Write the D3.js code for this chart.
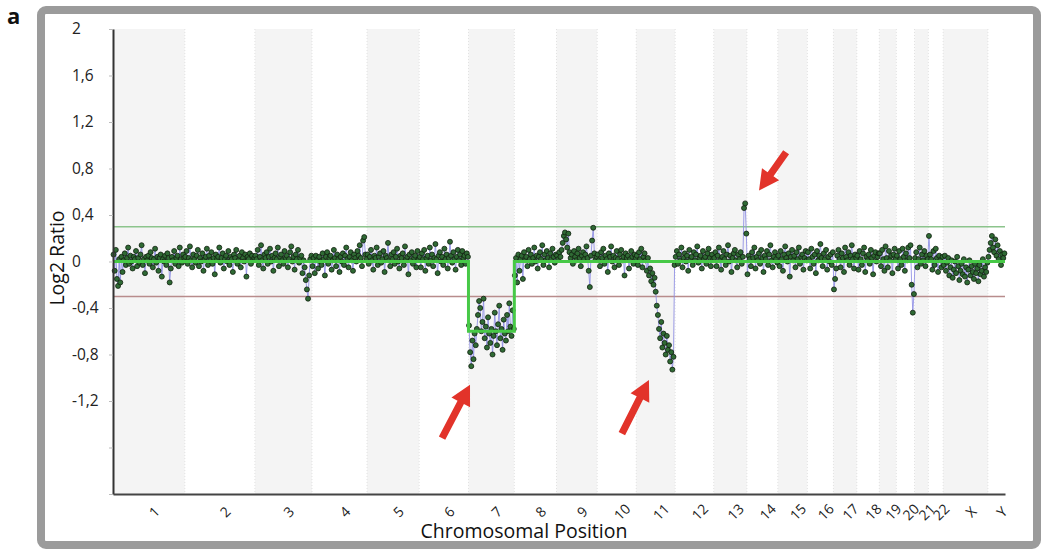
<!DOCTYPE html>
<html>
<head>
<meta charset="utf-8">
<script src="https://cdn.jsdelivr.net/npm/d3@7"></script>
<style>
  html, body { margin: 0; padding: 0; background: #fff; }
  svg { display: block; font-family: "Open Sans", "Liberation Sans", sans-serif; }
</style>
</head>
<body>
<svg id="chart" width="1041" height="551"></svg>
<script>
// Chromosomes and their lengths (Mb)
const chromosomes = ["1","2","3","4","5","6","7","8","9","10","11","12","13","14","15","16","17","18","19","20","21","22","X","Y"];
const chromLengthsMb = [249.25,243.20,198.02,191.15,180.92,171.12,159.14,146.36,141.21,135.53,135.01,133.85,115.17,107.35,102.53,90.35,81.20,78.08,59.13,63.03,48.13,51.30,155.27,59.37];

// Probe log2 ratios, in genomic order along each chromosome
const probesChr1 = [0.06,-0.08,0.10,-0.15,-0.21,0.02,-0.18,0.04,-0.09,0.01,0.07,-0.03,0.03,0.12,-0.02,0.05,0.00,-0.06,0.04,0.02,0.09,-0.04,0.03,-0.01,0.06,0.14,-0.03,0.02,-0.10,0.04,0.01,0.05,-0.02,0.08,0.03,-0.05,0.02,0.11,-0.01,0.04,-0.08,0.03,0.06,-0.13,0.02,0.00,0.05,-0.03,0.07,0.03,-0.18,-0.06,0.04,0.01,0.09,-0.02,0.03,0.05,-0.04,0.12,0.02,-0.01,0.06,0.03];
const probesChr2 = [0.04,0.09,-0.02,0.03,0.13,0.01,-0.05,0.06,0.02,-0.01,0.05,0.10,-0.04,0.03,0.00,0.07,-0.08,0.02,0.04,0.11,-0.03,0.05,0.01,0.08,-0.02,0.03,-0.11,0.06,0.02,0.04,0.12,-0.01,0.03,0.07,-0.06,0.02,0.05,0.00,0.09,-0.03,0.04,0.02,-0.09,0.06,0.03,0.10,-0.02,0.01,0.05,-0.05,0.08,0.03,0.00,0.06,-0.13,0.04,0.02,0.07,-0.02,0.05,0.01,0.03];
const probesChr3 = [0.05,0.02,0.10,-0.03,0.04,0.14,0.01,-0.06,0.06,0.03,0.08,-0.02,0.04,0.11,0.00,0.05,-0.08,0.03,0.07,0.02,0.12,-0.04,0.04,0.06,0.01,-0.02,0.09,0.03,0.05,-0.05,0.02,0.08,0.13,0.00,0.04,-0.07,0.06,0.02,0.10,-0.01,0.03,0.05,-0.10,0.01,-0.05,-0.16,-0.24,-0.32,-0.12,0.02,0.05];
const probesChr4 = [-0.04,0.03,-0.10,0.05,0.01,-0.06,0.04,0.00,-0.03,0.07,0.02,-0.12,0.04,0.08,-0.02,0.03,0.05,-0.07,0.01,0.10,0.03,-0.04,0.06,0.02,-0.09,0.04,0.00,0.07,-0.03,0.05,0.12,0.02,-0.05,0.04,0.08,0.01,-0.08,0.06,0.03,0.00,0.09,0.05,0.14,0.03,-0.04,0.18,0.21,0.06,0.02];
const probesChr5 = [0.06,-0.02,0.04,0.10,0.01,-0.07,0.05,0.03,0.12,-0.03,0.04,0.07,-0.01,0.02,0.09,-0.09,0.05,0.03,0.16,0.01,-0.04,0.06,0.02,0.08,-0.02,0.04,0.11,0.00,-0.06,0.05,0.03,0.07,-0.03,0.13,0.02,0.04,-0.11,0.06,0.01,0.08,-0.02,0.03,0.05,-0.05,0.09,0.02];
const probesChr6 = [0.04,-0.05,0.07,0.02,0.10,-0.08,0.03,0.05,-0.02,0.12,0.01,0.06,-0.04,0.03,0.15,0.02,-0.10,0.05,0.08,0.00,0.04,-0.03,0.11,0.02,0.06,-0.06,0.03,0.17,0.05,-0.01,0.08,0.02,-0.07,0.04,0.10,0.01,0.06,-0.03,0.09,0.03,0.05,-0.02,0.07,0.04];
const probesChr7 = [-0.55,-0.78,-0.90,-0.68,-0.84,-0.62,-0.72,-0.58,-0.46,-0.34,-0.40,-0.60,-0.52,-0.32,-0.66,-0.56,-0.74,-0.48,-0.62,-0.70,-0.58,-0.80,-0.64,-0.44,-0.60,-0.72,-0.54,-0.38,-0.66,-0.58,-0.76,-0.50,-0.62,-0.68,-0.46,-0.60,-0.36,-0.56,-0.64,-0.42,-0.58];
const probesChr8 = [-0.12,0.03,-0.18,0.06,-0.08,0.02,0.05,-0.15,0.08,0.01,0.04,-0.04,0.10,0.02,0.06,-0.02,0.03,0.12,0.00,0.05,-0.06,0.04,0.08,0.02,0.14,-0.03,0.06,0.01,0.09,0.03,-0.05,0.07,0.02,0.11,0.04,-0.01,0.06];
const probesChr9 = [0.05,0.02,0.08,0.04,0.10,0.16,0.22,0.25,0.19,0.12,0.24,0.08,0.03,0.06,-0.02,0.09,0.04,0.01,0.07,0.11,0.03,-0.04,0.05,0.08,0.02,0.06,0.13,0.03,-0.08,-0.22,0.05,0.18,0.29,0.07,0.02,0.04];
const probesChr10 = [0.06,0.01,-0.04,0.08,0.03,0.11,-0.02,0.05,0.02,-0.09,0.07,0.04,0.13,0.00,0.05,-0.05,0.03,0.09,0.02,-0.03,0.06,0.10,0.01,0.04,-0.12,0.07,0.03,0.05,-0.06,0.02,0.09,0.04,-0.02,0.06,0.03];
const probesChr11 = [0.05,-0.03,0.08,0.02,0.11,-0.05,0.04,0.07,0.01,-0.08,0.03,-0.12,-0.06,-0.17,-0.10,-0.20,-0.14,-0.26,-0.38,-0.46,-0.58,-0.66,-0.52,-0.74,-0.62,-0.70,-0.80,-0.64,-0.76,-0.72,-0.86,-0.78,-0.93,-0.82,-0.03];
const probesChr12 = [0.04,0.09,-0.02,0.06,0.01,0.12,-0.05,0.03,0.07,0.00,0.05,-0.08,0.10,0.02,0.04,-0.03,0.08,0.01,0.06,0.13,-0.01,0.03,0.05,-0.06,0.09,0.02,0.04,-0.02,0.07,0.11,0.03,-0.04,0.06,0.02];
const probesChr13 = [0.03,0.08,-0.04,0.05,0.12,0.01,-0.07,0.04,0.09,0.02,-0.03,0.06,0.14,0.00,0.05,-0.09,0.03,0.07,0.10,0.01,-0.05,0.06,0.02,0.08,-0.02,0.04,0.46,0.50,0.24];
const probesChr14 = [-0.11,0.05,0.02,-0.04,0.08,0.03,0.12,-0.06,0.04,0.01,0.07,-0.02,0.10,0.03,-0.09,0.05,0.02,0.09,-0.03,0.06,0.14,0.01,-0.05,0.04,0.08,0.02,-0.01];
const probesChr15 = [0.05,-0.04,0.09,0.02,-0.08,0.06,0.13,0.03,0.00,0.07,-0.13,0.04,0.10,0.01,0.05,-0.05,0.08,0.02,0.12,-0.02,0.04,0.06,-0.07,0.03,0.09,0.01];
const probesChr16 = [0.08,0.02,-0.06,0.11,0.04,-0.02,0.06,-0.10,0.09,0.01,0.05,0.15,0.03,-0.04,0.07,0.02,0.10,-0.07,0.04,0.00,0.06,-0.03,0.08];
const probesChr17 = [-0.24,-0.15,-0.06,0.05,0.10,0.02,-0.05,0.07,0.03,-0.09,0.12,0.04,0.01,0.08,-0.03,0.05,0.14,0.02,-0.06,0.06,0.03];
const probesChr18 = [0.05,-0.07,0.09,0.02,-0.03,0.07,0.12,-0.09,0.04,0.01,0.06,-0.02,0.10,0.03,-0.11,0.05,0.08,0.00,0.04,0.07];
const probesChr19 = [0.07,-0.04,0.10,0.02,-0.08,0.13,0.03,-0.05,0.09,0.01,0.05,-0.10,0.06,0.11,0.02];
const probesChr20 = [0.05,-0.06,0.09,0.02,-0.03,0.11,0.04,-0.08,0.07,0.01,0.12,0.03,0.14,-0.20,-0.44,-0.28];
const probesChr21 = [0.03,0.08,-0.05,0.02,0.12,-0.02,0.06,0.01,0.09,-0.04,0.05,0.02];
const probesChr22 = [0.22,0.06,0.02,-0.07,0.09,-0.03,0.11,0.03,-0.09,0.05,0.01,-0.05,0.04];
const probesChrX = [-0.03,0.05,-0.08,-0.01,0.03,-0.12,-0.05,0.01,-0.14,-0.07,0.00,-0.10,0.04,-0.04,-0.16,-0.08,-0.02,-0.11,0.02,-0.13,-0.05,-0.18,-0.07,0.01,-0.12,-0.04,-0.09,-0.15,-0.02,-0.10,-0.06,-0.17,-0.03,-0.11,-0.08,0.02,-0.13,-0.05,-0.09,-0.01];
const probesChrY = [0.04,0.10,0.16,0.22,0.12,0.08,0.19,0.05,0.14,0.02,0.09,-0.03,0.06,0.03,0.07];

const probeSeries = [probesChr1,probesChr2,probesChr3,probesChr4,probesChr5,probesChr6,probesChr7,probesChr8,
  probesChr9,probesChr10,probesChr11,probesChr12,probesChr13,probesChr14,probesChr15,probesChr16,probesChr17,
  probesChr18,probesChr19,probesChr20,probesChr21,probesChr22,probesChrX,probesChrY];

// Segmented copy-number call per chromosome (log2)
const segmentLog2 = [0,0,0,0,0,0,-0.6,0,0,0,0,0,0,0,0,0,0,0,0,0,0,0,0,0];

// Gain / loss thresholds
const gainThreshold = 0.3;
const lossThreshold = -0.3;

// Y axis ticks
const yTicks = [2,1.6,1.2,0.8,0.4,0,-0.4,-0.8,-1.2,-1.6,-2];
const yTickLabels = ["2","1,6","1,2","0,8","0,4","0","-0,4","-0,8","-1,2","",""];

// Arrow annotations: [genome position (Mb), log2] for tail and tip
const arrowTails = [[1142,-1.52],[1766,-1.48],[2336,0.94]];
const arrowTips  = [[1239,-1.06],[1860,-1.02],[2242,0.61]];

// ---------------------------------------------------------------
const svg = d3.select("#chart");
const plot = {left: 113, right: 1005, top: 29, bottom: 494};

const starts = [];
chromLengthsMb.reduce((acc, len) => { starts.push(acc); return acc + len; }, 0);
const genomeLength = d3.sum(chromLengthsMb);

const x = d3.scaleLinear().domain([0, genomeLength]).range([plot.left, plot.right]);
const y = d3.scaleLinear().domain([-2, 2]).range([plot.bottom, plot.top]);

// Outer frame
svg.append("rect")
  .attr("x", 41).attr("y", 10).attr("width", 996).attr("height", 535)
  .attr("rx", 5)
  .attr("fill", "none").attr("stroke", "#9b9b9b").attr("stroke-width", 8);

// Panel letter
svg.append("text")
  .attr("x", 7).attr("y", 24)
  .attr("font-size", 22).attr("font-weight", "bold").attr("fill", "#111")
  .text("a");

// Alternating chromosome bands
svg.append("g").selectAll("rect")
  .data(chromosomes.map((c, i) => ({c, i})).filter(d => d.i % 2 === 0))
  .join("rect")
  .attr("x", d => x(starts[d.i]))
  .attr("y", plot.top)
  .attr("width", d => x(starts[d.i] + chromLengthsMb[d.i]) - x(starts[d.i]))
  .attr("height", plot.bottom - plot.top)
  .attr("fill", "#f4f4f4");

// Dotted chromosome separators
svg.append("g").selectAll("line")
  .data(starts.slice(1))
  .join("line")
  .attr("x1", d => x(d)).attr("x2", d => x(d))
  .attr("y1", plot.top).attr("y2", plot.bottom)
  .attr("stroke", "#e2e2e2").attr("stroke-width", 1)
  .attr("stroke-dasharray", "1,2");

// Threshold lines
svg.append("line")
  .attr("x1", plot.left).attr("x2", plot.right)
  .attr("y1", y(gainThreshold)).attr("y2", y(gainThreshold))
  .attr("stroke", "#8cc48c").attr("stroke-width", 1.5);
svg.append("line")
  .attr("x1", plot.left).attr("x2", plot.right)
  .attr("y1", y(lossThreshold)).attr("y2", y(lossThreshold))
  .attr("stroke", "#b88c8c").attr("stroke-width", 1.5);

// Probe positions within each chromosome
const probes = [];
probeSeries.forEach((vals, i) => {
  const sp = d3.scalePoint()
    .domain(d3.range(vals.length))
    .range([x(starts[i]), x(starts[i] + chromLengthsMb[i])])
    .padding(0.5);
  vals.forEach((v, j) => probes.push({px: sp(j), v}));
});

// Probe connecting line
svg.append("path")
  .datum(probes)
  .attr("fill", "none")
  .attr("stroke", "#8d8de4").attr("stroke-width", 1).attr("stroke-opacity", 0.85)
  .attr("d", d3.line().x(d => d.px).y(d => y(d.v)));

// Probe points
svg.append("g").selectAll("circle")
  .data(probes)
  .join("circle")
  .attr("cx", d => d.px).attr("cy", d => y(d.v))
  .attr("r", 2.5)
  .attr("fill", "#2f6a34").attr("stroke", "#10200f").attr("stroke-width", 0.8);

// Segment line
const segPoints = [];
segmentLog2.forEach((v, i) => {
  segPoints.push({pos: starts[i], v});
  segPoints.push({pos: starts[i] + chromLengthsMb[i], v});
});
svg.append("path")
  .datum(segPoints)
  .attr("fill", "none")
  .attr("stroke", "#47c947").attr("stroke-width", 3)
  .attr("d", d3.line().x(d => x(d.pos)).y(d => y(d.v)));

// Y axis
const yAxis = svg.append("g")
  .attr("transform", `translate(${plot.left},0)`)
  .call(d3.axisLeft(y).tickValues(yTicks).tickSize(4).tickSizeOuter(0)
    .tickFormat((d, i) => yTickLabels[i]));
yAxis.select(".domain").attr("stroke", "#333").attr("stroke-width", 2);
yAxis.selectAll(".tick line").attr("stroke", "#bbb");
yAxis.selectAll(".tick text")
  .attr("x", -41).attr("text-anchor", "start")
  .attr("font-size", 15.5).attr("font-family", "Open Sans, Liberation Sans, sans-serif")
  .attr("fill", "#222");

// X axis with chromosome names
const centers = chromosomes.map((c, i) => starts[i] + chromLengthsMb[i] / 2);
const xAxis = svg.append("g")
  .attr("transform", `translate(0,${plot.bottom})`)
  .call(d3.axisBottom(x).tickValues(centers).tickSize(0).tickSizeOuter(0)
    .tickFormat((d, i) => chromosomes[i]));
xAxis.select(".domain").attr("stroke", "#444").attr("stroke-width", 2);
xAxis.selectAll(".tick text")
  .attr("y", 0).attr("dy", "0.35em")
  .attr("transform", "translate(5,18) rotate(-45)")
  .attr("text-anchor", "middle")
  .attr("font-size", 14).attr("font-family", "Open Sans, Liberation Sans, sans-serif")
  .attr("fill", "#222");

// Axis titles
svg.append("text")
  .attr("transform", `translate(64,258) rotate(-90)`)
  .attr("text-anchor", "middle")
  .attr("font-size", 19.5).attr("fill", "#111")
  .text("Log2 Ratio");
svg.append("text")
  .attr("x", 524).attr("y", 538)
  .attr("text-anchor", "middle")
  .attr("font-size", 19.5).attr("fill", "#111")
  .text("Chromosomal Position");

// Red arrows
const arrowPath = (tail, tip) => {
  const [x0, y0] = [x(tail[0]), y(tail[1])];
  const [x1, y1] = [x(tip[0]), y(tip[1])];
  const len = Math.hypot(x1 - x0, y1 - y0);
  const ux = (x1 - x0) / len, uy = (y1 - y0) / len;
  const nx = -uy, ny = ux;
  const shaft = 3.6, headW = 10.5, headL = 20;
  const bx = x1 - ux * headL, by = y1 - uy * headL;
  const pts = [
    [x0 + nx * shaft, y0 + ny * shaft],
    [bx + nx * shaft, by + ny * shaft],
    [bx + nx * headW, by + ny * headW],
    [x1, y1],
    [bx - nx * headW, by - ny * headW],
    [bx - nx * shaft, by - ny * shaft],
    [x0 - nx * shaft, y0 - ny * shaft]
  ];
  return "M" + pts.map(p => p.join(",")).join("L") + "Z";
};
svg.append("g").selectAll("path")
  .data(arrowTips.map((tip, i) => ({tip, tail: arrowTails[i]})))
  .join("path")
  .attr("d", d => arrowPath(d.tail, d.tip))
  .attr("fill", "#e2332a");
</script>
</body>
</html>
